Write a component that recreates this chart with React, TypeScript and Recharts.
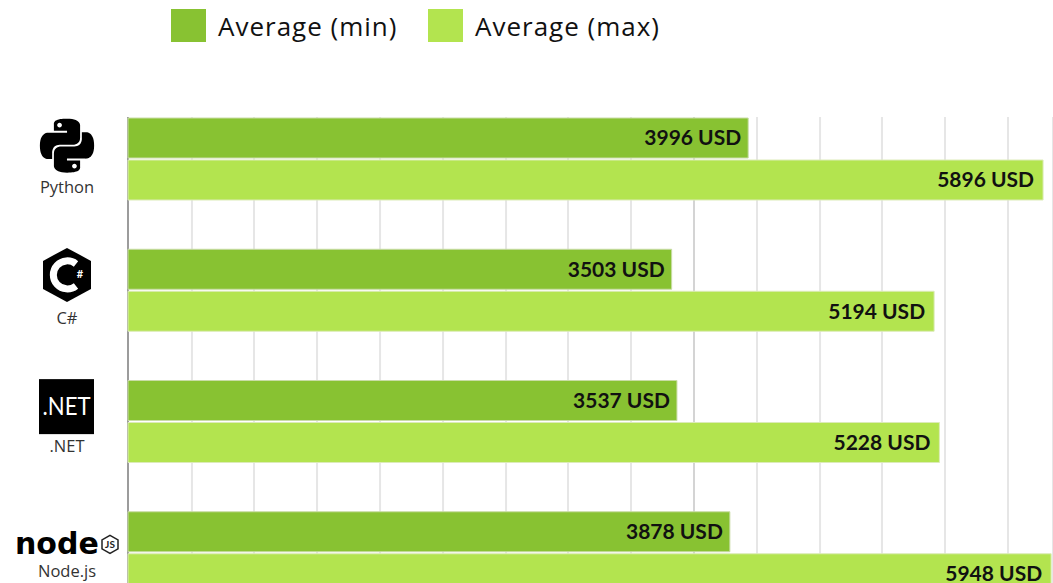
import { BarChart, Bar, XAxis, YAxis, CartesianGrid, LabelList, Legend } from 'recharts'

const CATEGORIES = ['Python', 'C#', '.NET', 'Node.js']
const AVERAGE_MIN = [3996, 3503, 3537, 3878]
const AVERAGE_MAX = [5896, 5194, 5228, 5948]
const GRID_TICKS = [0, 412, 812, 1218, 1624, 2030, 2436, 2835, 3241, 3647, 4053, 4459, 4858, 5264, 5670]

const COLORS = {
  min: '#88c232',
  max: '#b3e44f',
}

const FONT = 'Lato, "Noto Sans", sans-serif'
const WIDE_FONT = '"Open Sans", "Noto Sans", sans-serif'

const data = CATEGORIES.map((name, i) => ({
  name,
  min: AVERAGE_MIN[i],
  max: AVERAGE_MAX[i],
}))

const PYTHON_PATH =
  'M14.25.18l.9.2.73.26.59.3.45.32.34.34.25.34.16.33.1.3.04.26.02.2-.01.13V8.5l-.05.63-.13.55-.21.46-.26.38-.3.31-.33.25-.35.19-.35.14-.33.1-.3.07-.26.04-.21.02H8.77l-.69.05-.59.14-.5.22-.41.27-.33.32-.27.35-.2.36-.15.37-.1.35-.07.32-.04.27-.02.21v3.06H3.17l-.21-.03-.28-.07-.32-.12-.35-.18-.36-.26-.36-.36-.35-.46-.32-.59-.28-.73-.21-.88-.14-1.05-.05-1.23.06-1.22.16-1.04.24-.87.32-.71.36-.57.4-.44.42-.33.42-.24.4-.16.36-.1.32-.05.24-.01h.16l.06.01h8.16v-.83H6.18l-.01-2.75-.02-.37.05-.34.11-.31.17-.28.25-.26.31-.23.38-.2.44-.18.51-.15.58-.12.64-.1.71-.06.77-.04.84-.02 1.27.05zm-6.3 1.98l-.23.33-.08.41.08.41.23.34.33.22.41.09.41-.09.33-.22.23-.34.08-.41-.08-.41-.23-.33-.33-.22-.41-.09-.41.09zm13.09 3.95l.28.06.32.12.35.18.36.27.36.35.35.47.32.59.28.73.21.88.14 1.04.05 1.23-.06 1.23-.16 1.04-.24.86-.32.71-.36.57-.4.45-.42.33-.42.24-.4.16-.36.09-.32.05-.24.02-.16-.01h-8.22v.82h5.84l.01 2.76.02.36-.05.34-.11.31-.17.29-.25.25-.31.24-.38.2-.44.17-.51.15-.58.13-.64.09-.71.07-.77.04-.84.01-1.27-.04-1.07-.14-.9-.2-.73-.25-.59-.3-.45-.33-.34-.34-.25-.34-.16-.33-.1-.3-.04-.25-.02-.2.01-.13v-5.34l.05-.64.13-.54.21-.46.26-.38.3-.32.33-.24.35-.2.35-.14.33-.1.3-.06.26-.04.21-.02.13-.01h5.84l.69-.05.59-.14.5-.21.41-.28.33-.32.27-.35.2-.36.15-.36.1-.35.07-.32.04-.28.02-.21V6.07h2.09l.14.01zm-6.47 14.25l-.23.33-.08.41.08.41.23.33.33.23.41.08.41-.08.33-.23.23-.33.08-.41-.08-.41-.23-.33-.33-.23-.41-.08-.41.08z'

const PythonLogo = ({ cy }: { cy: number }) => (
  <g transform={`translate(40, ${cy - 40}) scale(2.25)`}>
    <path d={PYTHON_PATH} fill="#000" />
  </g>
)

const CSharpLogo = ({ cy }: { cy: number }) => (
  <g transform={`translate(67, ${cy - 15})`}>
    <polygon points="0,-27 24,-14 24,14 0,27 -24,14 -24,-14" fill="#000" />
    <path d="M 9,-11 A 14,14 0 1 0 9,11" fill="none" stroke="#fff" strokeWidth={7} />
    <text x={13} y={3} fontSize={11} fontWeight={700} fill="#fff" textAnchor="middle" fontFamily={FONT}>#</text>
  </g>
)

const DotNetLogo = ({ cy }: { cy: number }) => (
  <g>
    <rect x={39} y={cy - 42} width={55} height={55} fill="#000" />
    <text x={42.5} y={cy - 6} fontSize={25} fill="#fff" fontFamily={FONT} textLength={48} lengthAdjust="spacingAndGlyphs">.NET</text>
  </g>
)

const NodeLogo = ({ cy }: { cy: number }) => (
  <g>
    <text x={15} y={cy + 2} fontSize={30} fontWeight={700} fill="#000" fontFamily="DejaVu Sans">node</text>
    <polygon points="0,-9 8,-4.5 8,4.5 0,9 -8,4.5 -8,-4.5" transform={`translate(110, ${cy - 8})`} fill="none" stroke="#222" strokeWidth={1.5} />
    <text x={110} y={cy - 4} fontSize={10} fontWeight={700} fill="#222" textAnchor="middle" fontFamily={FONT}>JS</text>
  </g>
)

const LOGOS: Record<string, any> = {
  Python: { Logo: PythonLogo, labelDy: 34 },
  'C#': { Logo: CSharpLogo, labelDy: 34 },
  '.NET': { Logo: DotNetLogo, labelDy: 31 },
  'Node.js': { Logo: NodeLogo, labelDy: 25 },
}

const LogoTick = ({ y, payload }: any) => {
  const { Logo, labelDy } = LOGOS[payload.value]
  return (
    <g>
      <Logo cy={y} />
      <text x={67} y={y + labelDy} fontSize={16.5} fill="#333" textAnchor="middle" fontFamily={WIDE_FONT}>
        {payload.value}
      </text>
    </g>
  )
}

const TopLegend = ({ payload }: any) => (
  <div style={{ display: 'flex', fontFamily: WIDE_FONT, fontSize: 26, letterSpacing: 1, color: '#111' }}>
    {(payload || []).map((entry: any) => (
      <div key={entry.value} style={{ display: 'flex', alignItems: 'center', width: 257, height: 33 }}>
        <span style={{ width: 35, height: 33, background: entry.color, marginRight: 12 }} />
        <span style={{ whiteSpace: 'nowrap' }}>{entry.value}</span>
      </div>
    ))}
  </div>
)

// first line is the axis itself, one of the grid lines is darker in the source
const GridLine = ({ x1, x2, y1, y2, index }: any) => {
  let stroke = '#e6e6e6'
  if (index === 0) stroke = '#9c9c9c'
  if (index === 9) stroke = '#d4d4d4'
  return <line x1={x1} x2={x2} y1={y1} y2={y2} stroke={stroke} strokeWidth={2} />
}

export default function App() {
  return (
    <div style={{ position: 'absolute', left: 0, top: 0, width: 1053, height: 583, overflow: 'hidden', background: '#fff' }}>
      <BarChart
        width={1053}
        height={640}
        data={data}
        layout="vertical"
        margin={{ top: 60, right: 0, bottom: 22, left: 0 }}
        barSize={40}
        barGap={2}
      >
        <CartesianGrid horizontal={false} y={117} height={500} vertical={(props: any) => <GridLine {...props} />} />
        <XAxis type="number" domain={[0, 5960]} ticks={GRID_TICKS} hide />
        <YAxis
          type="category"
          dataKey="name"
          width={128}
          tick={<LogoTick />}
          tickLine={false}
          axisLine={false}
          interval={0}
        />
        <Legend
          verticalAlign="top"
          itemSorter={null}
          content={<TopLegend />}
          wrapperStyle={{ position: 'absolute', left: 171, top: 9, width: 600 }}
        />
        <Bar dataKey="min" name="Average (min)" fill={COLORS.min} stroke="#c9dca6" strokeWidth={1} isAnimationActive={false}>
          <LabelList
            dataKey="min"
            position="insideRight"
            offset={7}
            formatter={(v: any) => `${v} USD`}
            style={{ fontFamily: FONT, fontSize: 21, fontWeight: 700, fill: '#111' }}
          />
        </Bar>
        <Bar dataKey="max" name="Average (max)" fill={COLORS.max} stroke="#dcebb8" strokeWidth={1} isAnimationActive={false}>
          <LabelList
            dataKey="max"
            position="insideRight"
            offset={9}
            formatter={(v: any) => `${v} USD`}
            style={{ fontFamily: FONT, fontSize: 21, fontWeight: 700, fill: '#111' }}
          />
        </Bar>
      </BarChart>
    </div>
  )
}
